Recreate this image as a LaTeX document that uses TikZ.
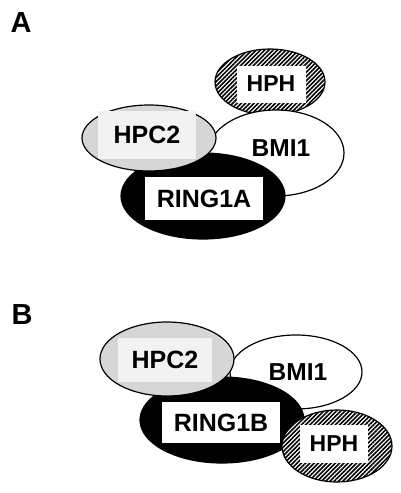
\documentclass[tikz,border=0pt]{standalone}
\usepackage{fontspec}
\setmainfont{Liberation Sans}[BoldFont={Liberation Sans Bold}]
\newfontfamily\heavysans{Liberation Sans Bold}
\usepackage{tikz}
\usetikzlibrary{shapes.geometric, patterns.meta, positioning}
\definecolor{dotgray}{rgb}{0.84, 0.84, 0.84}
\definecolor{paledot}{rgb}{0.95, 0.95, 0.95}

\begin{document}
\begin{tikzpicture}[x=1pt, y=-1pt,
  blob/.style={ellipse, draw=black, line width=1.2pt, inner sep=0pt},
  hatched/.style={blob, preaction={fill=white}, pattern={Lines[angle=45,distance=3pt,line width=1.6pt]}, pattern color=black},
  dotted blob/.style={blob, fill=dotgray},
  plain/.style={blob, fill=white},
  dark/.style={blob, fill=black},
  label box/.style={rectangle, fill=white, inner sep=0pt, font=\heavysans\fontsize{25}{25}\selectfont},
  panel/.style={font=\heavysans\fontsize{29}{29}\selectfont}]
\useasboundingbox (0,0) rectangle (400,493);

% panel A
\node[panel] (labA) at (21,23) {A};
\node[hatched, minimum width=110, minimum height=66] (hphA) at (270,82) {};
\node[label box, minimum width=69, minimum height=37, font=\heavysans\fontsize{23}{23}\selectfont] (hphAtxt) at (271,84) {HPH};
\node[plain, minimum width=136, minimum height=86] (bmiA) at (276,153) {};
\node[font=\heavysans\fontsize{24.5}{24.5}\selectfont] (bmiAtxt) at (281,148) {BMI1};
\node[dark, minimum width=164, minimum height=86] (ringA) at (203,196) {};
\node[label box, minimum width=118, minimum height=43] (ringAtxt) at (204,198.5) {RING1A};
\node[dotted blob, minimum width=134, minimum height=66] (hpcA) at (149,138) {};
\node[label box, fill=paledot, minimum width=98, minimum height=48] (hpcAtxt) at (147,135) {HPC2};

% panel B
\node[panel] (labB) at (22,315) {B};
\node[plain, minimum width=132, minimum height=74] (bmiB) at (296,372) {};
\node[font=\heavysans\fontsize{24.5}{24.5}\selectfont] (bmiBtxt) at (298,372) {BMI1};
\node[dark, minimum width=164, minimum height=86] (ringB) at (222,420) {};
\node[label box, minimum width=118, minimum height=41] (ringBtxt) at (221,422.5) {RING1B};
\node[dotted blob, minimum width=134, minimum height=74] (hpcB) at (167,359) {};
\node[label box, fill=paledot, minimum width=94, minimum height=44] (hpcBtxt) at (165,360) {HPC2};
\node[hatched, minimum width=110, minimum height=72] (hphB) at (337,446) {};
\node[label box, minimum width=68, minimum height=38, font=\heavysans\fontsize{23}{23}\selectfont] (hphBtxt) at (334,444) {HPH};
\end{tikzpicture}
\end{document}
